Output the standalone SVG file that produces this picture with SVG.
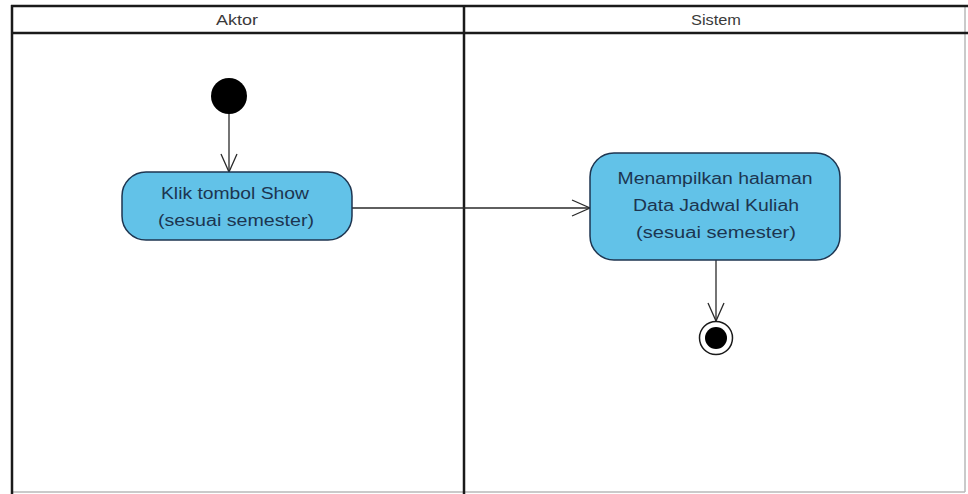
<svg xmlns="http://www.w3.org/2000/svg" width="968" height="494" viewBox="0 0 968 494">
  <style>
    .lane { fill: none; stroke: #1a1a1a; stroke-width: 2.5; }
    .lane-thin { fill: none; stroke: #b8b8b8; stroke-width: 1.5; }
    .head { font-family: "Liberation Sans", Arial, sans-serif; font-size: 15px; fill: #3a3a3a; text-anchor: middle; }
    .action { fill: #62c2e8; stroke: #1e3550; stroke-width: 1.5; }
    .label { font-family: "Liberation Sans", Arial, sans-serif; font-size: 16px; fill: #1c3550; text-anchor: middle; }
    .flow { fill: none; stroke: #2a2a2a; stroke-width: 1.3; }
  </style>
  <defs>
    <marker id="open" viewBox="0 0 20 20" refX="19" refY="10" markerWidth="20" markerHeight="20" markerUnits="userSpaceOnUse" orient="auto">
      <path d="M1,2 L19,10 L1,18" fill="none" stroke="#2a2a2a" stroke-width="1.3"/>
    </marker>
  </defs>

  <rect width="968" height="494" fill="#ffffff"/>

  <!-- swimlane frame -->
  <g id="lanes">
    <line class="lane-thin" x1="965" y1="6" x2="965" y2="492"/>
    <line class="lane-thin" x1="11" y1="492" x2="965" y2="492"/>
    <line class="lane" x1="11" y1="6" x2="968" y2="6"/>
    <line class="lane" x1="11" y1="33" x2="968" y2="33"/>
    <line class="lane" x1="12" y1="5" x2="12" y2="494"/>
    <line class="lane" x1="464" y1="5" x2="464" y2="494"/>
    <text class="head" x="237" y="25" textLength="42" lengthAdjust="spacingAndGlyphs">Aktor</text>
    <text class="head" x="716" y="25" textLength="50" lengthAdjust="spacingAndGlyphs">Sistem</text>
  </g>

  <!-- connectors -->
  <g id="flows">
    <line class="flow" x1="229" y1="112" x2="229" y2="172" marker-end="url(#open)"/>
    <line class="flow" x1="352" y1="208" x2="590" y2="208" marker-end="url(#open)"/>
    <line class="flow" x1="716" y1="260" x2="716" y2="321" marker-end="url(#open)"/>
  </g>

  <g id="start">
    <circle cx="229" cy="96" r="18" fill="#000000"/>
  </g>

  <g id="klik-show">
    <rect class="action" x="122" y="172" width="230" height="68" rx="24" ry="24"/>
    <text class="label" x="235" y="199" textLength="148" lengthAdjust="spacingAndGlyphs">Klik tombol Show</text>
    <text class="label" x="236" y="226" textLength="156" lengthAdjust="spacingAndGlyphs">(sesuai semester)</text>
  </g>

  <g id="tampil-jadwal">
    <rect class="action" x="590" y="153" width="250" height="107" rx="24" ry="24"/>
    <text class="label" x="715" y="184" textLength="195" lengthAdjust="spacingAndGlyphs">Menampilkan halaman</text>
    <text class="label" x="716" y="211" textLength="166" lengthAdjust="spacingAndGlyphs">Data Jadwal Kuliah</text>
    <text class="label" x="716" y="238" textLength="160" lengthAdjust="spacingAndGlyphs">(sesuai semester)</text>
  </g>

  <g id="end">
    <circle cx="716" cy="338" r="16.5" fill="#ffffff" stroke="#1a1a1a" stroke-width="1.5"/>
    <circle cx="716" cy="338" r="11" fill="#000000"/>
  </g>
</svg>
